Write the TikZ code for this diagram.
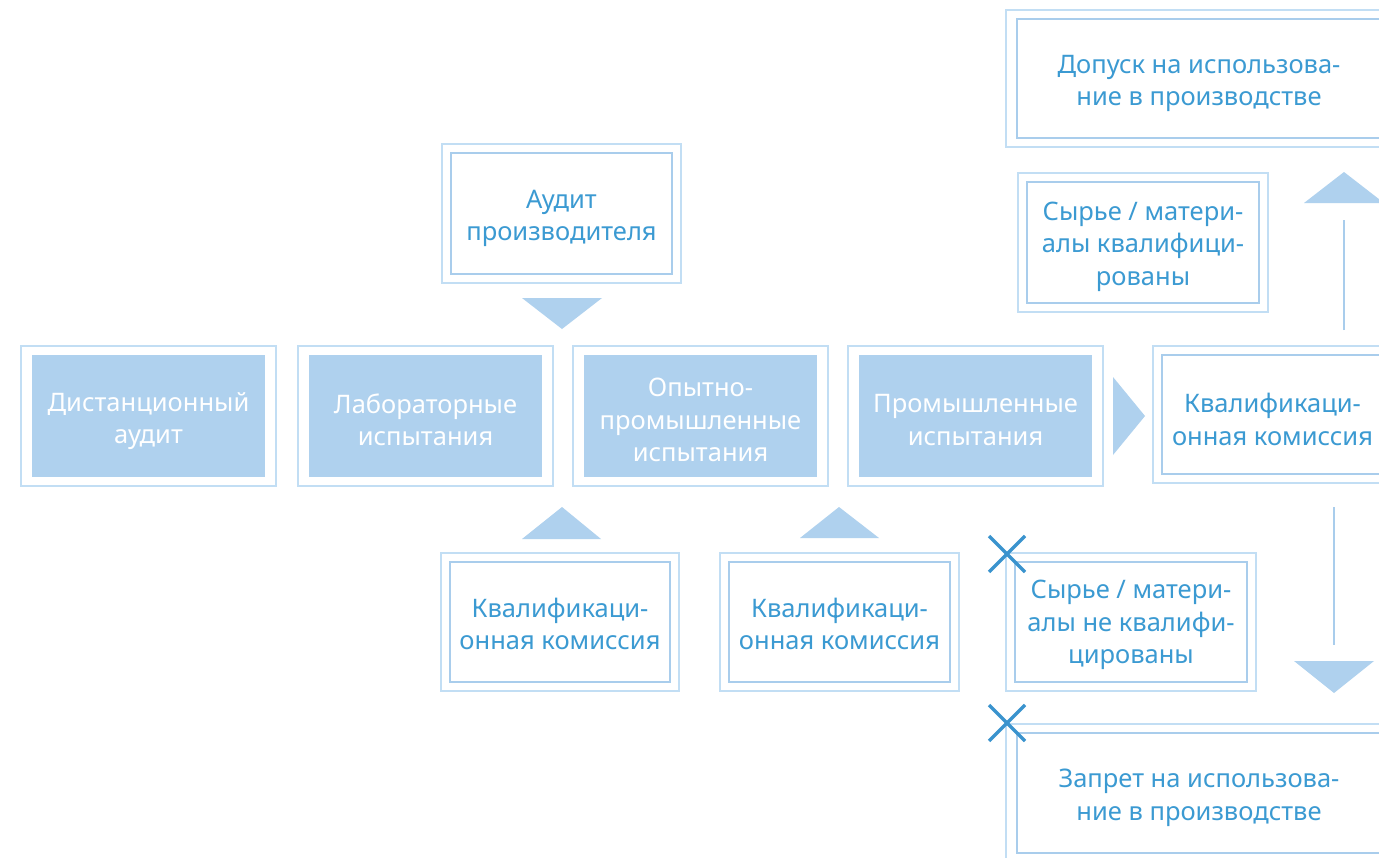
\documentclass[tikz,border=0pt]{standalone}
\usepackage{fontspec}
\setmainfont{Noto Sans}
\definecolor{fillblue}{HTML}{AFD1EE}
\definecolor{outerblue}{HTML}{C2DEF4}
\definecolor{innerblue}{HTML}{A9CDEC}
\definecolor{textblue}{HTML}{3B9AD2}
\definecolor{xblue}{HTML}{3A93CE}
\tikzset{
  boxtext/.style={font=\fontsize{25.5}{32.5}\selectfont, align=center, inner sep=0pt, outer sep=0pt},
  filledbox/.style={fill=fillblue, inner sep=0pt, outer sep=0pt},
  whitebox/.style={draw=innerblue, line width=2.5pt, fill=white, inner sep=0pt, outer sep=0pt},
  wtext/.style={boxtext, text=white},
  btext/.style={boxtext, text=textblue},
  frameline/.style={draw=outerblue, line width=1.5pt},
  tri/.style={fill=fillblue, draw=none},
  stem/.style={draw=innerblue, line width=1.5pt},
  xmark/.style={draw=xblue, line width=3.5pt},
}
\newcommand\frameof[3]{\draw[frameline] ([xshift=-#2pt,yshift=#3pt]#1.north west) rectangle ([xshift=#2pt,yshift=-#3pt]#1.south east);}
\begin{document}
\begin{tikzpicture}[x=1pt,y=-1pt]
\useasboundingbox (0,0) rectangle (1379,857);
\clip (0,0) rectangle (1379,857);
\fill[white] (0,0) rectangle (1379,857);

% main row
\node[filledbox, minimum width=233pt, minimum height=122pt] (dist) at (148.5,416) {};
\frameof{dist}{11}{9}
\node[wtext] (distT) at ([yshift=-5pt]dist.center) {Дистанционный\\аудит};
\node[filledbox, minimum width=233pt, minimum height=122pt] (lab) at (425.5,416) {};
\frameof{lab}{11}{9}
\node[wtext] (labT) at ([yshift=-4pt]lab.center) {Лабораторные\\испытания};
\node[filledbox, minimum width=233pt, minimum height=122pt] (opyt) at (700.5,416) {};
\frameof{opyt}{11}{9}
\node[wtext] (opytT) at ([yshift=-4pt]opyt.center) {Опытно-\\промышленные\\испытания};
\node[filledbox, minimum width=233pt, minimum height=122pt] (prom) at (975.5,416) {};
\frameof{prom}{11}{9}
\node[wtext] (promT) at ([yshift=-4pt]prom.center) {Промышленные\\испытания};
\node[whitebox, minimum width=221pt, minimum height=119pt] (kvr) at (1272.5,414.5) {};
\frameof{kvr}{9}{9}
\node[btext] (kvrT) at ([yshift=-5pt]kvr.center) {Квалификаци-\\онная комиссия};

% upper boxes
\node[whitebox, minimum width=221pt, minimum height=121pt] (audit) at (561.5,213.5) {};
\frameof{audit}{9}{9}
\node[btext] (auditT) at ([yshift=-5pt]audit.center) {Аудит\\производителя};
\node[whitebox, minimum width=232pt, minimum height=121pt] (syr) at (1143,242.5) {};
\frameof{syr}{9}{9}
\node[btext] (syrT) at ([yshift=-4pt]syr.center) {Сырье / матери-\\алы квалифици-\\рованы};
\node[whitebox, minimum width=364pt, minimum height=119pt] (dopusk) at (1199,78.5) {};
\frameof{dopusk}{11}{9}
\node[btext] (dopuskT) at ([yshift=-5pt]dopusk.center) {Допуск на использова-\\ние в производстве};

% lower boxes
\node[whitebox, minimum width=220pt, minimum height=120pt] (kv1) at (560,622) {};
\frameof{kv1}{9}{9}
\node[btext] (kv1T) at ([yshift=-2pt]kv1.center) {Квалификаци-\\онная комиссия};
\node[whitebox, minimum width=221pt, minimum height=120pt] (kv2) at (839.5,622) {};
\frameof{kv2}{9}{9}
\node[btext] (kv2T) at ([yshift=-2pt]kv2.center) {Квалификаци-\\онная комиссия};
\node[whitebox, minimum width=232pt, minimum height=120pt] (nesyr) at (1131,622) {};
\frameof{nesyr}{9}{9}
\node[btext] (nesyrT) at ([yshift=-3pt]nesyr.center) {Сырье / матери-\\алы не квалифи-\\цированы};
\node[whitebox, minimum width=364pt, minimum height=120pt] (zapret) at (1199,793) {};
\frameof{zapret}{11}{9}
\node[btext] (zapretT) at ([yshift=-5pt]zapret.center) {Запрет на использова-\\ние в производстве};

% arrow heads (triangles)
\fill[tri] (522,298) -- (602,298) -- (562,329) -- cycle;
\fill[tri] (522,539) -- (601,539) -- (562,507) -- cycle;
\fill[tri] (800,538) -- (879,538) -- (839,507) -- cycle;
\fill[tri] (1113,377) -- (1113,455) -- (1145,416) -- cycle;
\fill[tri] (1304,203) -- (1384,203) -- (1344,172) -- cycle;
\fill[tri] (1294,661) -- (1374,661) -- (1334,693) -- cycle;

% stems
\coordinate (upA) at (1344,330);
\coordinate (upB) at (1344,220);
\draw[stem] (upA) -- (upB);
\coordinate (dnA) at (1334,507);
\coordinate (dnB) at (1334,645);
\draw[stem] (dnA) -- (dnB);

% crosses
\coordinate (x1) at (1007,554);
\coordinate (x2) at (1007,723);
\draw[xmark] ([xshift=-18pt,yshift=18pt]x1) -- ([xshift=18pt,yshift=-18pt]x1);
\draw[xmark] ([xshift=-18pt,yshift=-18pt]x1) -- ([xshift=18pt,yshift=18pt]x1);
\draw[xmark] ([xshift=-18pt,yshift=18pt]x2) -- ([xshift=18pt,yshift=-18pt]x2);
\draw[xmark] ([xshift=-18pt,yshift=-18pt]x2) -- ([xshift=18pt,yshift=18pt]x2);
\end{tikzpicture}
\end{document}
